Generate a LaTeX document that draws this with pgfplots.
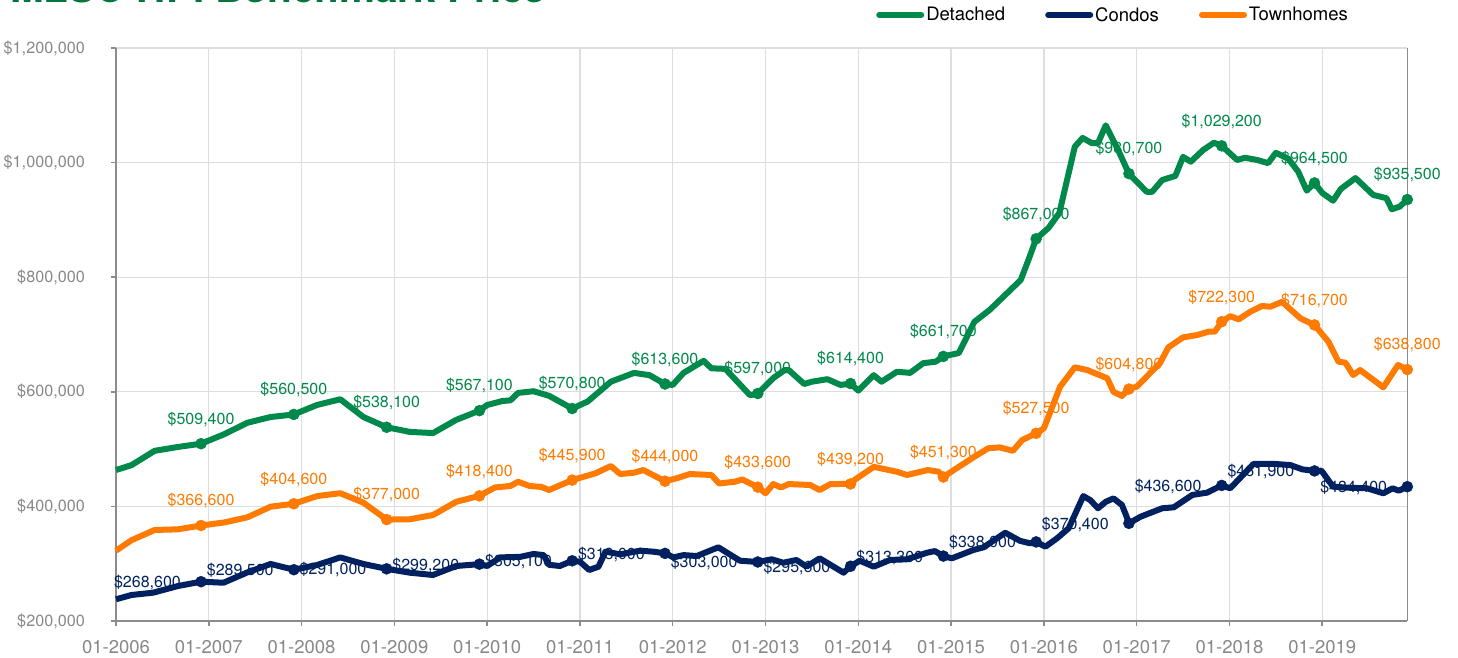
\documentclass[border=0pt]{standalone}
\usepackage{fontspec}
\setmainfont{TeX Gyre Heros}
\usepackage{pgfplots}
\usepackage{pgfplotstable}
\pgfplotsset{compat=1.18}
\definecolor{detc}{HTML}{00894A}
\definecolor{conc}{HTML}{00205F}
\definecolor{towc}{HTML}{FF7A00}
\definecolor{gridc}{HTML}{DEDEDE}
\definecolor{axc}{HTML}{8C8C8C}
\definecolor{tickc}{HTML}{888888}
\definecolor{titlec}{HTML}{00763D}

% month index: 0 = 01-2006 ... 167 = 12-2019
\pgfplotstableread{
m v
0 463500
2 472000
5 497000
8 503700
11 509400
14 526000
17 546000
20 556000
23 560500
26 577000
29 587000
32 556000
35 538100
38 530000
41 528000
44 551000
47 567100
48 577000
50 584000
51 585000
52 598000
54 601000
56 593000
59 570800
61 583000
64 617600
67 633000
69 629000
71 613600
72 612000
73.4 633000
76 654000
77 641000
78.8 640000
82 594000
83 597000
85 624000
86.5 638000
87 638000
89 613600
90 617600
92 622000
93.7 612000
95 614400
96 602000
98 629000
99 617600
101 635000
102.7 633000
104.4 650000
106 652500
107 661700
109 667700
111 722000
113 743000
115 769000
117 795000
118 830000
119 867000
120.6 886000
122 912000
124 1027700
125 1043000
126.2 1034000
127 1034000
128 1065000
129.6 1022000
131 980700
133.3 949000
134 949000
135.3 969600
137 976700
138 1010000
139 1001600
140.6 1022000
142 1034700
143 1029200
145 1004500
146 1008500
147.6 1004500
149 999000
150 1017000
151.6 1007000
152.9 984000
154 951000
155 964500
156 947000
157.4 933500
158.4 954000
160.3 973000
162.6 943500
164.3 938000
165 918500
166 923000
167 935500
}\detached

\pgfplotstableread{
m v
0 237900
2 245400
4.8 249400
8 261000
11 268600
13.9 266800
16.9 284300
20 299500
23 289500
26 297700
29 311000
32 299500
35 291000
38 284300
41 280300
44 296000
47 299200
48 296000
49.7 311000
52.3 312000
54 317000
55.3 315000
56 298000
57.4 296000
59 305100
60 303500
61.2 289000
62.4 294800
63.3 321000
65.2 316400
67.8 322700
69.5 321000
71 318000
72.1 311000
73.4 315000
75.1 313400
77.9 328600
80.7 305200
83 303000
84.8 307700
86.3 301700
88 306500
89.3 294800
91 309400
92.8 294800
94.1 284300
95 295600
96.2 305200
98 294800
100.1 306500
102.3 307700
104.9 319200
105.9 322000
107 313300
108.1 309400
110.9 324000
112.2 328600
115 354000
116.9 340000
118.2 335600
119 338000
120.2 329700
121.7 344300
123.2 361800
125.1 418000
126 411000
127 396700
128 408000
129 414000
130.1 402400
130.7 382000
131 370400
132.5 382000
135.3 396700
136.8 398400
139.2 420000
141.1 424000
143 436600
144.1 431600
147.1 474000
150 474000
151.9 472000
153.4 464700
155 461900
155.9 462300
157.4 434400
159.4 432600
161.8 431600
163.9 422900
165.1 431600
165.9 427400
167 434400
}\condos

\pgfplotstableread{
m v
0 322700
2 341000
5 358800
8 360000
11 366600
14 372000
17 381000
20 399500
23 404600
26 418000
29 423000
32 406500
35 377000
38 377500
41 385000
44 408000
47 418400
49 433000
51 435600
52 443000
53.5 435600
55 434000
56 428600
59 445900
62 457700
64 470500
65.2 456500
67 458800
68.2 463500
69.7 453000
71 444000
72.5 449000
74.2 456500
77 454800
78 440000
80 443000
81 447000
83 433600
84 422900
85 439000
86 433000
87 439000
89.8 437300
91 428600
92.4 439000
95 439200
95.6 447000
98 469000
101 460500
102.3 454800
105 463500
106.4 460500
107 451300
108.7 466500
110.9 485700
112.8 501400
114.3 503000
116 497000
117.2 515900
119 527500
120 536300
122.1 609000
124 642700
125.6 638000
128.2 623600
129 600000
130.1 592700
131 604800
132 609000
135 649700
136.1 677600
138 695000
139.8 699000
141.3 704900
142.1 704900
143 722300
144.1 732000
145.2 726500
146.7 739800
148.2 749700
149.3 748500
150.8 757000
153.2 728000
155 716700
156.8 687400
158.1 652500
159 650800
160 629300
160.9 638000
163.9 607800
165.8 646800
167 638800
}\townhomes

% December values with their labels
\pgfplotstableread{
m v lab
11 509400 \$509,400
23 560500 \$560,500
35 538100 \$538,100
47 567100 \$567,100
59 570800 \$570,800
71 613600 \$613,600
83 597000 \$597,000
95 614400 \$614,400
107 661700 \$661,700
119 867000 \$867,000
131 980700 \$980,700
143 1029200 \$1,029,200
155 964500 \$964,500
167 935500 \$935,500
}\detmarks

\pgfplotstableread{
m v lab
11 268600 \$268,600
23 289500 \$289,500
35 291000 \$291,000
47 299200 \$299,200
59 305100 \$305,100
71 318000 \$318,000
83 303000 \$303,000
95 295600 \$295,600
107 313300 \$313,300
119 338000 \$338,000
131 370400 \$370,400
143 436600 \$436,600
155 461900 \$461,900
167 434400 \$434,400
}\conmarks

\pgfplotstableread{
m v lab
11 366600 \$366,600
23 404600 \$404,600
35 377000 \$377,000
47 418400 \$418,400
59 445900 \$445,900
71 444000 \$444,000
83 433600 \$433,600
95 439200 \$439,200
107 451300 \$451,300
119 527500 \$527,500
131 604800 \$604,800
143 722300 \$722,300
155 716700 \$716,700
167 638800 \$638,800
}\towmarks

\begin{document}
\begin{tikzpicture}
\begin{axis}[
  scale only axis, width=1291.3pt, height=573pt,
  at={(116pt,37pt)}, anchor=south west,
  xmin=0, xmax=167, ymin=200000, ymax=1200000,
  xtick={0,12,...,156},
  xticklabels={01-2006,01-2007,01-2008,01-2009,01-2010,01-2011,01-2012,01-2013,01-2014,01-2015,01-2016,01-2017,01-2018,01-2019},
  ytick={200000,400000,...,1200000},
  yticklabels={{\$200,000},{\$400,000},{\$600,000},{\$800,000},{\$1,000,000},{\$1,200,000}},
  scaled y ticks=false, scaled x ticks=false,
  grid=major, grid style={gridc, line width=1.3pt},
  axis x line*=bottom, axis y line*=left,
  axis line style={-, axc, line width=1.5pt},
  tick style={axc, line width=1.5pt},
  tick align=outside, major tick length=5pt,
  xticklabel style={font=\fontsize{18.5}{20}\selectfont, text=tickc, anchor=north, inner sep=0pt, yshift=-14pt},
  yticklabel style={font=\fontsize{16.2}{18}\selectfont, text=tickc, anchor=east, inner sep=0pt, xshift=-26pt},
  clip=false,
  legend columns=3,
  legend style={at={(0.5886,1.0576)}, anchor=west, draw=none, fill=none,
    font=\fontsize{18.5}{20}\selectfont, inner sep=0pt,
    /tikz/every even column/.append style={column sep=38pt}},
  legend image code/.code={\draw[#1, line width=6pt, line cap=round] (0pt,0pt) -- (42pt,0pt);},
]
\addplot[detc, line width=6pt, line join=round] table[x=m,y=v]{\detached};
\addlegendentry{Detached}
\addplot[conc, line width=6pt, line join=round] table[x=m,y=v]{\condos};
\addlegendentry{Condos}
\addplot[towc, line width=6pt, line join=round] table[x=m,y=v]{\townhomes};
\addlegendentry{Townhomes}

\addplot[forget plot, only marks, mark=*, mark size=5.5pt, detc, mark options={line width=0.5pt},
  point meta=explicit symbolic, nodes near coords,
  every node near coord/.append style={font=\fontsize{16}{18}\selectfont, text=detc, anchor=base, inner sep=0pt, yshift=19.7pt}]
  table[x=m,y=v,meta=lab]{\detmarks};
\addplot[forget plot, only marks, mark=*, mark size=5.5pt, towc, mark options={line width=0.5pt},
  point meta=explicit symbolic, nodes near coords,
  every node near coord/.append style={font=\fontsize{16}{18}\selectfont, text=towc, anchor=base, inner sep=0pt, yshift=19.7pt}]
  table[x=m,y=v,meta=lab]{\towmarks};
\addplot[forget plot, only marks, mark=*, mark size=5.5pt, conc, mark options={line width=0.5pt},
  point meta=explicit symbolic, nodes near coords,
  every node near coord/.append style={font=\fontsize{16}{18}\selectfont, text=conc, anchor=base east, inner sep=0pt, xshift=-20pt, yshift=-6pt}]
  table[x=m,y=v,meta=lab]{\conmarks};

\draw[axc, line width=1.5pt] (rel axis cs:1,0) -- (rel axis cs:1,1);
\end{axis}
\node[anchor=base west, inner sep=0pt, text=titlec, font=\fontsize{40.5}{42}\selectfont\bfseries] at (10pt,655pt) {MLS® HPI Benchmark Price};
\pgfresetboundingbox
\path[use as bounding box] (0,0) rectangle (1458pt,658pt);
\end{tikzpicture}
\end{document}
